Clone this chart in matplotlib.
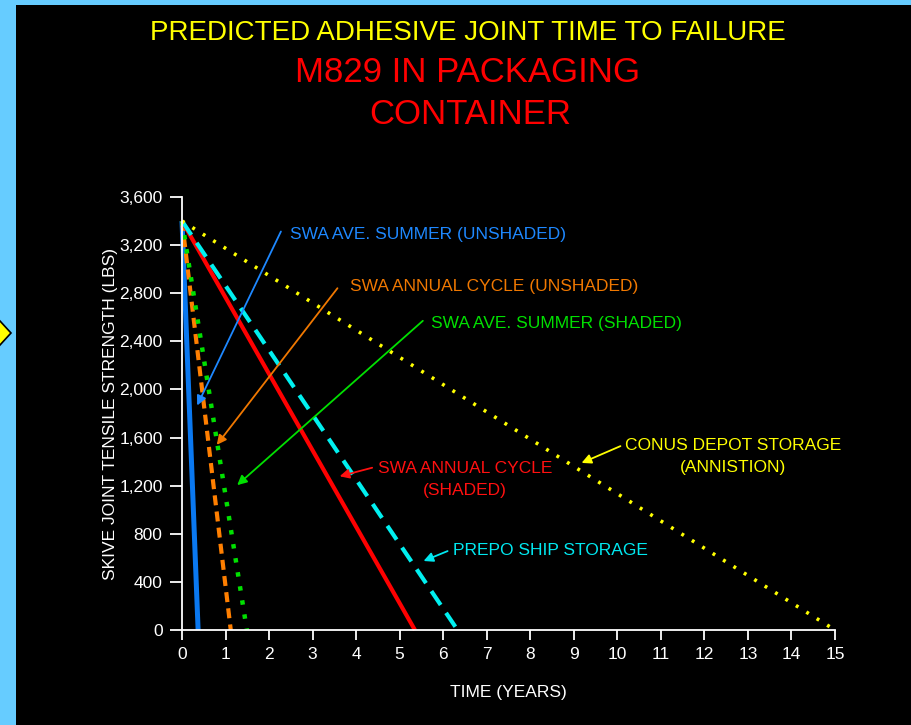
import matplotlib
matplotlib.use("Agg")
import matplotlib.pyplot as plt
from matplotlib.patches import Rectangle, Polygon

# every curve starts at the same strength and falls to zero
start_strength = 3400
fail_years = [0.37, 1.12, 1.49, 5.35, 6.33, 15.0]
line_colors = ["#0a78f0", "#ff7f00", "#00e000", "#ff0000", "#00f0f0", "#ffff00"]
line_styles = ["-", (0, (2.4, 1.5)), (0, (1.0, 2.2)), "-", (0, (4.0, 2.3)), (0, (0.8, 2.6))]
line_widths = [3.6, 3.0, 3.2, 3.0, 3.0, 2.6]

labels = ["SWA AVE. SUMMER (UNSHADED)", "SWA ANNUAL CYCLE (UNSHADED)", "SWA AVE. SUMMER (SHADED)",
          "SWA ANNUAL CYCLE\n(SHADED)", "PREPO SHIP STORAGE", "CONUS DEPOT STORAGE\n(ANNISTION)"]
label_colors = ["#1e88ff", "#f07800", "#00e000", "#ff1010", "#00e8f0", "#ffff00"]
# arrow head (on the curve) and arrow tail (next to the text), data units
arrow_heads = [(0.32, 1846), (0.76, 1521), (1.22, 1189), (3.56, 1272), (5.49, 565), (9.12, 1380)]
arrow_tails = [(2.30, 3334), (3.61, 2860), (5.58, 2586), (4.43, 1355), (6.16, 665), (10.13, 1538)]
text_pos = [(2.48, 3290), (3.85, 2860), (5.71, 2550), (6.5, 1250), (6.22, 665), (12.65, 1445)]
text_align = ["left", "left", "left", "center", "left", "center"]

x_ticks = list(range(0, 16))
y_ticks = list(range(0, 3601, 400))

plt.rcParams["font.family"] = ["Liberation Sans", "DejaVu Sans"]

fig = plt.figure(figsize=(9.12, 7.25), dpi=100, facecolor="#66ccff")
fig.patches.append(Rectangle((16 / 912, 0), 1, 1 - 5 / 725, transform=fig.transFigure,
                             facecolor="black", edgecolor="none", zorder=-2))
fig.patches.append(Polygon([(-11 / 912, 1 - 333 / 725), (0, 1 - 345 / 725), (11 / 912, 1 - 333 / 725),
                            (0, 1 - 321 / 725)],
                           closed=True, transform=fig.transFigure, facecolor="#ffff00",
                           edgecolor="black", lw=1.2, zorder=-1))

ax = fig.add_axes([182 / 912, 95 / 725, 653 / 912, 433 / 725])
ax.set_facecolor("none")

for fy, c, ls, lw in zip(fail_years, line_colors, line_styles, line_widths):
    ax.plot([0, fy], [start_strength, 0], color=c, linestyle=ls, lw=lw, clip_on=False,
            solid_capstyle="butt", dash_capstyle="butt")

for lab, c, head, tail, tp, ha in zip(labels, label_colors, arrow_heads, arrow_tails, text_pos, text_align):
    ax.annotate("", xy=head, xytext=tail,
                arrowprops=dict(arrowstyle="-|>", color=c, lw=1.3, mutation_scale=14))
    ax.text(tp[0], tp[1], lab, color=c, fontsize=12.5, ha=ha, va="center", linespacing=1.6)

ax.set_xlim(0, 15)
ax.set_ylim(0, 3600)
ax.set_xticks(x_ticks)
ax.set_yticks(y_ticks)
ax.set_yticklabels([f"{v:,}" for v in y_ticks])
for side in ["top", "right"]:
    ax.spines[side].set_visible(False)
for side in ["left", "bottom"]:
    ax.spines[side].set_color("white")
    ax.spines[side].set_linewidth(1.3)
ax.tick_params(axis="y", colors="white", labelsize=12.5, length=9, width=1.3, pad=5)
ax.tick_params(axis="x", colors="white", labelsize=12.5, length=7.5, width=1.3, pad=5)
ax.set_xlabel("TIME (YEARS)", color="white", fontsize=12.5, labelpad=16)
ax.set_ylabel("SKIVE JOINT TENSILE STRENGTH (LBS)", color="white", fontsize=12.5, labelpad=1)

fig.text(468 / 912, 1 - 33 / 725, "PREDICTED ADHESIVE JOINT TIME TO FAILURE", color="#ffff00",
         fontsize=20, ha="center", va="center")
fig.text(468 / 912, 1 - 73 / 725, "M829 IN PACKAGING", color="#ff0000", fontsize=25, ha="center", va="center")
fig.text(470 / 912, 1 - 115 / 725, "CONTAINER", color="#ff0000", fontsize=25, ha="center", va="center")

fig.savefig("out.png", dpi=100, facecolor=fig.get_facecolor())
